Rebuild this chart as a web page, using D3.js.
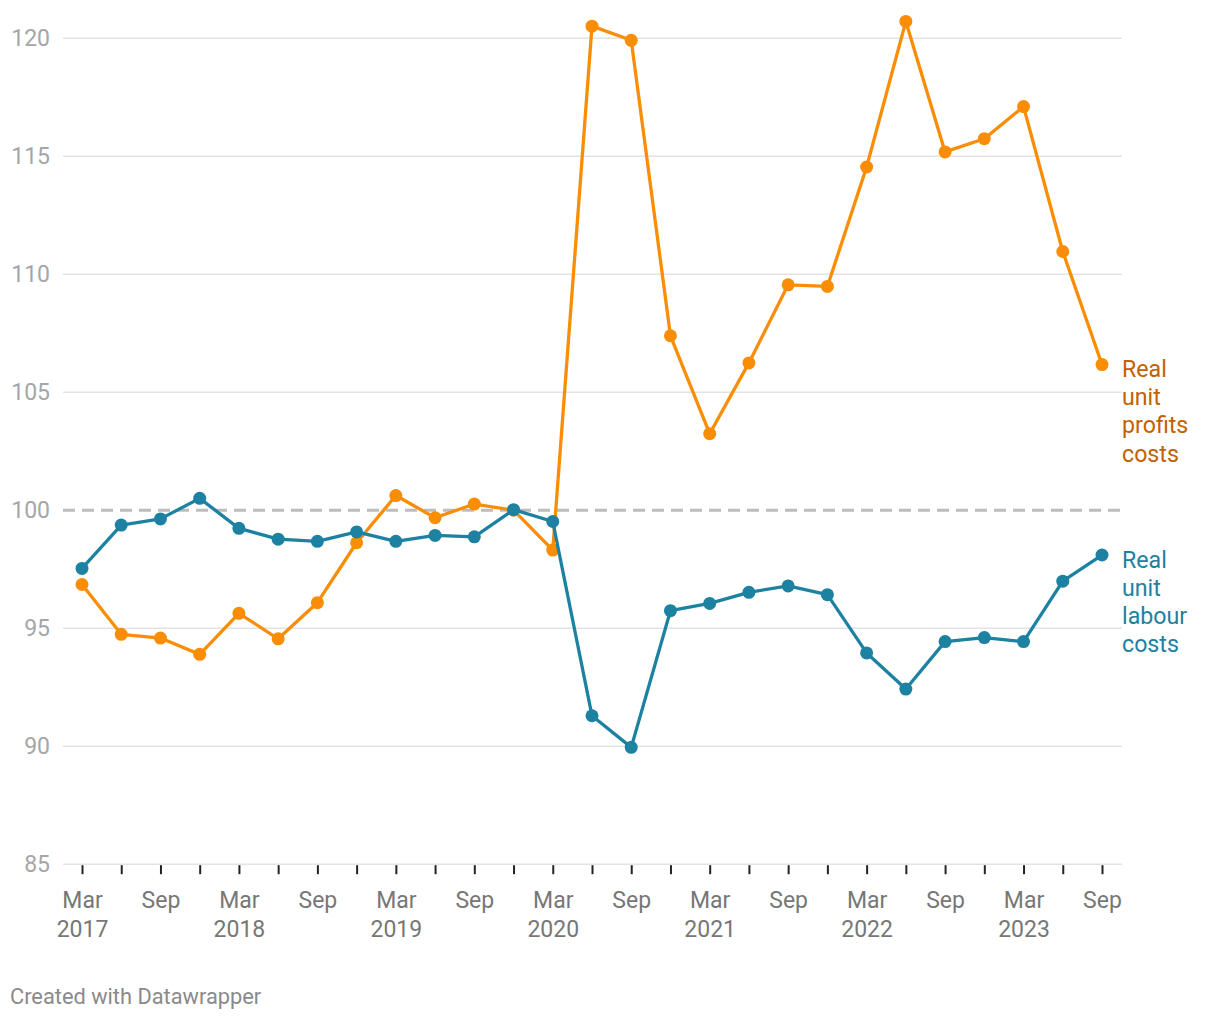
<!DOCTYPE html>
<html>
<head>
<meta charset="utf-8">
<script src="https://cdn.jsdelivr.net/npm/d3@7"></script>
<style>
  html, body { margin: 0; padding: 0; background: #fff; }
  svg { display: block; font-family: Roboto, "Noto Sans", sans-serif; }
</style>
</head>
<body>
<svg id="chart" width="1220" height="1020"></svg>
<script>
// ---- data ----
const quarters = [
  "Mar 2017","Jun 2017","Sep 2017","Dec 2017",
  "Mar 2018","Jun 2018","Sep 2018","Dec 2018",
  "Mar 2019","Jun 2019","Sep 2019","Dec 2019",
  "Mar 2020","Jun 2020","Sep 2020","Dec 2020",
  "Mar 2021","Jun 2021","Sep 2021","Dec 2021",
  "Mar 2022","Jun 2022","Sep 2022","Dec 2022",
  "Mar 2023","Jun 2023","Sep 2023"
];
const profits = [
  96.83, 94.72, 94.56, 93.87,
  95.61, 94.53, 96.06, 98.60,
  100.60, 99.66, 100.24, 99.98,
  98.29, 120.49, 119.89, 107.37,
  103.22, 106.22, 109.53, 109.46,
  114.52, 120.69, 115.16, 115.72,
  117.08, 110.94, 106.15
];
const labour = [
  97.51, 99.35, 99.61, 100.48,
  99.21, 98.75, 98.66, 99.06,
  98.66, 98.91, 98.85, 100.00,
  99.50, 91.27, 89.93, 95.72,
  96.03, 96.50, 96.77, 96.40,
  93.93, 92.40, 94.41, 94.58,
  94.41, 96.97, 98.08
];
const yTicks = [85, 90, 95, 100, 105, 110, 115, 120];
const seriesNames = ["Real unit profits costs", "Real unit labour costs"];
const footerText = "Created with Datawrapper";

// ---- layout ----
const svg = d3.select("#chart");
const gridLeft = 63, gridRight = 1122;
const x = d3.scaleLinear().domain([0, quarters.length - 1]).range([82, 1102]);
const y = d3.scaleLinear().domain([85, 120]).range([863.7, 37.7]);

// y axis + grid
const yAxis = svg.append("g")
  .attr("transform", `translate(${gridLeft},0)`)
  .call(d3.axisLeft(y).tickValues(yTicks).tickSize(-(gridRight - gridLeft)).tickPadding(13).tickFormat(d3.format("d")));
yAxis.select(".domain").remove();
yAxis.selectAll(".tick line")
  .attr("stroke", d => d === 100 ? "#bdbdbd" : "#e3e3e3")
  .attr("stroke-width", d => d === 100 ? 3 : 1.6)
  .attr("stroke-dasharray", d => d === 100 ? "12,7" : null);
yAxis.selectAll(".tick text")
  .attr("fill", "#a6a6a6")
  .attr("font-size", 23)
  .attr("font-family", "Roboto");

// x axis
const xAxis = svg.append("g")
  .attr("transform", `translate(0,${y(85) + 1.5})`)
  .call(d3.axisBottom(x).tickValues(d3.range(quarters.length)).tickSize(9).tickFormat(""));
xAxis.select(".domain").remove();
xAxis.selectAll(".tick line").attr("stroke", "#222").attr("stroke-width", 2);
xAxis.selectAll(".tick").each(function(i) {
  const parts = quarters[i].split(" ");
  const mon = parts[0], yr = parts[1];
  if (mon !== "Mar" && mon !== "Sep") return;
  const t = d3.select(this).append("text")
    .attr("fill", "#777")
    .attr("font-size", 23)
    .attr("font-family", "Roboto")
    .attr("text-anchor", "middle");
  t.append("tspan").attr("x", 0).attr("y", 43).text(mon);
  if (mon === "Mar") t.append("tspan").attr("x", 0).attr("y", 72).text(yr);
});

// lines
const line = d3.line().x((d, i) => x(i)).y(d => y(d));
const series = [
  { name: seriesNames[0], values: profits, color: "#f98e06", labelColor: "#c26200" },
  { name: seriesNames[1], values: labour, color: "#1d81a2", labelColor: "#1d81a2" }
];
series.forEach(s => {
  svg.append("path")
    .datum(s.values)
    .attr("fill", "none")
    .attr("stroke", s.color)
    .attr("stroke-width", 3.3)
    .attr("stroke-linejoin", "round")
    .attr("d", line);
  svg.append("g").selectAll("circle")
    .data(s.values)
    .join("circle")
    .attr("cx", (d, i) => x(i))
    .attr("cy", d => y(d))
    .attr("r", 6.5)
    .attr("fill", s.color);
  // end label
  const last = s.values[s.values.length - 1];
  const words = s.name.split(" ");
  const t = svg.append("text")
    .attr("fill", s.labelColor)
    .attr("font-size", 23.2)
    .attr("font-family", "Roboto");
  words.forEach((w, k) => {
    t.append("tspan").attr("x", gridRight).attr("y", y(last) + 12.5 + k * 28.2).text(w);
  });
});

// footer
svg.append("text")
  .attr("x", 10).attr("y", 1004)
  .attr("fill", "#8a8a8a")
  .attr("font-size", 21.8)
  .attr("font-family", "Roboto")
  .text(footerText);
</script>
</body>
</html>
